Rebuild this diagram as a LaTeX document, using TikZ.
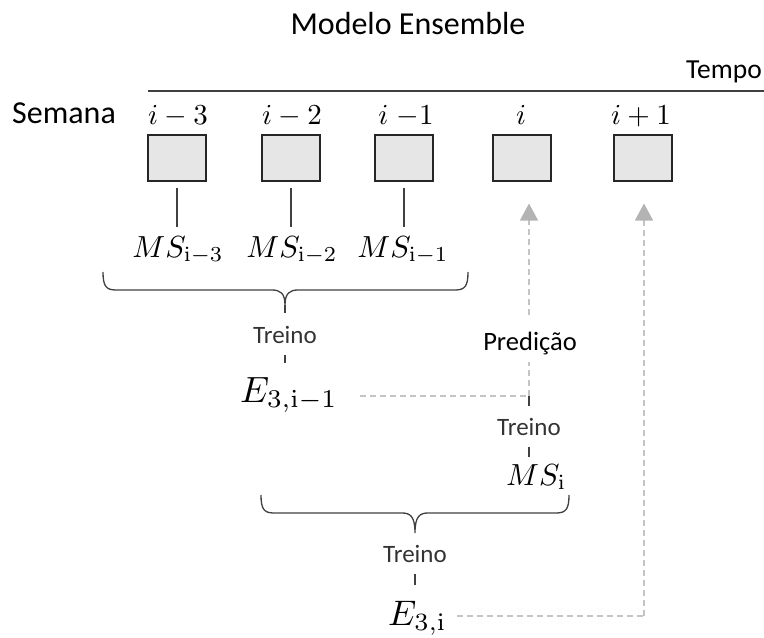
\documentclass[tikz,border=0pt]{standalone}
\usepackage{graphicx}
\usepackage[no-math]{fontspec}
\setmainfont{Carlito}
\usetikzlibrary{arrows.meta}
\definecolor{boxfill}{HTML}{E6E6E6}
\definecolor{darkln}{HTML}{404040}
\definecolor{lightln}{HTML}{C4C4C4}
\definecolor{arrowgr}{HTML}{B3B3B3}
\newcommand\fsz[1]{\fontsize{#1}{#1}\selectfont}
\newcommand\mth[2]{\scalebox{#1}{$#2$}}
\tikzset{
  weekbox/.style={draw=black!85, line width=1.1pt, fill=boxfill, minimum width=58pt, minimum height=46pt, inner sep=0pt},
  wlabel/.style={anchor=base, inner sep=0pt},
  mslabel/.style={anchor=base, inner sep=0pt, text height=30pt, text depth=6pt},
  treino/.style={anchor=base, inner sep=0pt, text=black!80, font=\fsz{25}},
  vline/.style={draw=darkln, line width=1.1pt},
  stub/.style={draw=darkln, line width=1.1pt},
  bracepath/.style={draw=darkln, line width=1.3pt},
  gdash/.style={draw=lightln, line width=1.4pt, dash pattern=on 6pt off 4pt},
  uparrow/.style={-{Triangle[width=18pt,length=17pt,color=arrowgr]}},
}
\begin{document}
\begin{tikzpicture}[x=1pt,y=-1pt]
\useasboundingbox (0,0) rectangle (764,638);
% title and axis
\node[anchor=base, inner sep=0pt, font=\fsz{32}] (title) at (408,34) {Modelo Ensemble};
\node[anchor=base east, inner sep=0pt, font=\fsz{27.5}] (tempo) at (762,78) {Tempo};
\coordinate (axL) at (148,91);
\coordinate (axR) at (764,91);
\draw[draw=darkln, line width=1.3pt] (axL) -- (axR);
\node[anchor=base west, inner sep=0pt, font=\fsz{32}] (semana) at (12,123) {Semana};
% week labels
\node[wlabel] (l1) at (178,124) {\mth{2.9}{i-3}};
\node[wlabel] (l2) at (292,124) {\mth{2.9}{i-2}};
\node[wlabel] (l3) at (406,124) {\mth{2.9}{i\;{-1}}};
\node[wlabel] (l4) at (521,124) {\mth{2.9}{i}};
\node[wlabel] (l5) at (641,124) {\mth{2.9}{i+1}};
% boxes
\node[weekbox] (b1) at (177,158) {};
\node[weekbox] (b2) at (291,158) {};
\node[weekbox] (b3) at (404,158) {};
\node[weekbox] (b4) at (522,158) {};
\node[weekbox] (b5) at (643,158) {};
% MS labels
\node[mslabel] (ms1) at (178,257) {\mth{3.05}{MS_{\mathrm{i-3}}}};
\node[mslabel] (ms2) at (292,257) {\mth{3.05}{MS_{\mathrm{i-2}}}};
\node[mslabel] (ms3) at (403,257) {\mth{3.05}{MS_{\mathrm{i-1}}}};
\draw[vline, shorten <=6pt] (b1.south) -- (b1.south |- ms1.north);
\draw[vline, shorten <=6pt] (b2.south) -- (b2.south |- ms2.north);
\draw[vline, shorten <=6pt] (b3.south) -- (b3.south |- ms3.north);
% brace 1
\coordinate (br1) at (285,305);
\draw[bracepath] (103,272) .. controls (103,286) and (106,290) .. (116,290) -- (272,290)
   .. controls (280,290) and (285,293) .. (br1) .. controls (285,293) and (290,290) .. (298,290)
   -- (455,290) .. controls (465,290) and (468,286) .. (468,272);
\node[treino, text height=30pt, text depth=12pt] (t1) at (285,343) {Treino};
\node[anchor=base west, inner sep=0pt, text height=39pt, text depth=8pt] (E1) at (240,402) {\mth{3.65}{E_{3,\mathrm{i-1}}}};
\draw[stub] (br1) -- (t1.north);
\draw[stub] (t1.south) -- (t1.south |- E1.north);
% prediction path
\coordinate (c1) at (529,396);
\node[anchor=base, inner sep=0pt, text height=35pt, text depth=12pt, font=\fsz{26.5}] (pred) at (530,350) {Predição};
\draw[gdash, shorten <=22pt] (E1.east |- c1) -- (c1);
\draw[gdash] (c1) -- (c1 |- pred.south);
\draw[gdash, uparrow, shorten >=22pt] (c1 |- pred.north) -- (c1 |- b4.south);
% Treino 2 and MS_i
\node[treino, text height=29pt, text depth=12pt] (t2) at (529,435) {Treino};
\node[anchor=base west, inner sep=0pt, text height=28pt, text depth=8pt] (msi) at (506,485) {\mth{3.05}{MS_{\mathrm{i}}}};
\draw[stub] (c1) -- (c1 |- t2.north);
\draw[stub] (t2.south) -- (t2.south |- msi.north);
% brace 2
\coordinate (br2) at (415,533);
\draw[bracepath] (261,495) .. controls (261,509) and (264,513) .. (274,513) -- (402,513)
   .. controls (410,513) and (415,516) .. (br2) .. controls (415,516) and (420,513) .. (428,513)
   -- (556,513) .. controls (566,513) and (569,509) .. (569,495);
\node[treino, text height=15pt, text depth=12pt] (t3) at (415,562) {Treino};
\node[anchor=base west, inner sep=0pt, text height=40pt, text depth=8pt] (E2) at (388,625) {\mth{3.55}{E_{3,\mathrm{i}}}};
\draw[stub] (t3.south) -- (t3.south |- E2.north);
% prediction path 2
\coordinate (c2) at (644,616);
\draw[gdash, shorten <=10pt] (E2.east |- c2) -- (c2);
\draw[gdash, uparrow, shorten >=22pt] (c2) -- (c2 |- b5.south);
\end{tikzpicture}
\end{document}
